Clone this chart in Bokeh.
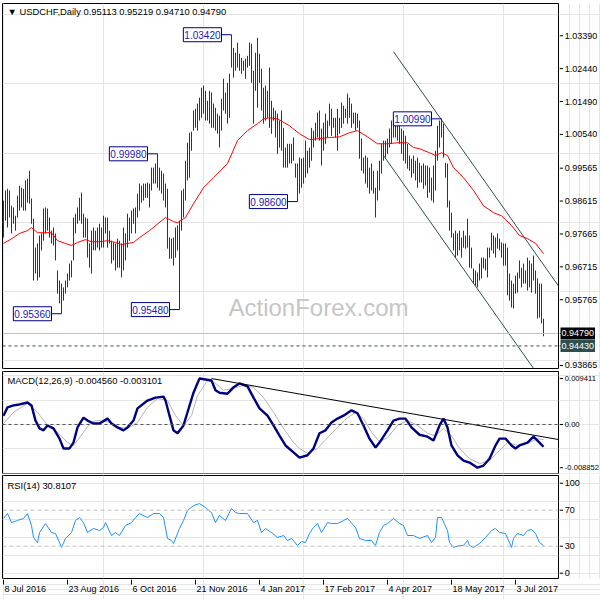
from bokeh.plotting import figure
from bokeh.layouts import column, row
from bokeh.models import Range1d, Label, Span, ColumnDataSource
from bokeh.core.properties import value
from bokeh.embed import file_html
from bokeh.resources import INLINE

# ---------------- data ----------------
bar_high = [
    0.9863, 0.9892, 0.9897, 0.9892, 0.9848, 0.9843, 0.9819, 0.9877, 0.9906, 0.9900,
    0.9897, 0.9921, 0.9926, 0.9949, 0.9869, 0.9811, 0.9727, 0.9739, 0.9762, 0.9768,
    0.9840, 0.9843, 0.9840, 0.9814, 0.9776, 0.9785, 0.9768, 0.9661, 0.9632, 0.9623,
    0.9612, 0.9632, 0.9652, 0.9681, 0.9690, 0.9814, 0.9825, 0.9843, 0.9871, 0.9886,
    0.9825, 0.9814, 0.9811, 0.9739, 0.9776, 0.9785, 0.9776, 0.9785, 0.9796, 0.9785,
    0.9819, 0.9814, 0.9814, 0.9776, 0.9747, 0.9742, 0.9739, 0.9753, 0.9747, 0.9739,
    0.9785, 0.9768, 0.9825, 0.9814, 0.9834, 0.9840, 0.9843, 0.9883, 0.9912, 0.9906,
    0.9912, 0.9912, 0.9915, 0.9912, 0.9958, 0.9958, 0.9970, 0.9998, 0.9958, 0.9949,
    0.9941, 0.9912, 0.9897, 0.9756, 0.9753, 0.9756, 0.9785, 0.9791, 0.9805, 0.9892,
    0.9897, 0.9978, 1.0030, 1.0059, 1.0062, 1.0123, 1.0128, 1.0143, 1.0160, 1.0189,
    1.0195, 1.0180, 1.0151, 1.0180, 1.0175, 1.0143, 1.0131, 1.0114, 1.0108, 1.0157,
    1.0215, 1.0175, 1.0203, 1.0229, 1.0342, 1.0304, 1.0290, 1.0319, 1.0287, 1.0275,
    1.0267, 1.0273, 1.0281, 1.0319, 1.0316, 1.0238, 1.0290, 1.0333, 1.0287, 1.0244,
    1.0189, 1.0195, 1.0180, 1.0247, 1.0151, 1.0131, 1.0123, 1.0114, 1.0094, 1.0123,
    1.0073, 1.0016, 1.0027, 1.0027, 1.0027, 1.0045, 0.9970, 0.9970, 0.9987, 0.9984,
    0.9987, 1.0036, 1.0007, 1.0016, 1.0073, 1.0065, 1.0088, 1.0117, 1.0123, 1.0071,
    1.0088, 1.0114, 1.0094, 1.0143, 1.0128, 1.0102, 1.0102, 1.0128, 1.0102, 1.0146,
    1.0137, 1.0128, 1.0172, 1.0160, 1.0143, 1.0117, 1.0117, 1.0114, 1.0094, 1.0042,
    0.9987, 0.9993, 0.9987, 0.9958, 0.9970, 0.9949, 0.9900, 0.9949, 0.9978, 1.0027,
    1.0036, 1.0036, 1.0042, 1.0071, 1.0094, 1.0102, 1.0094, 1.0094, 1.0085, 1.0071,
    1.0065, 1.0050, 1.0027, 0.9993, 0.9984, 0.9993, 0.9978, 0.9987, 0.9972, 0.9964,
    0.9970, 0.9964, 0.9964, 0.9958, 0.9929, 0.9964, 1.0007, 1.0079, 1.0094, 1.0099,
    1.0085, 0.9972, 0.9970, 0.9863, 0.9828, 0.9768, 0.9776, 0.9768, 0.9776, 0.9756,
    0.9776, 0.9762, 0.9811, 0.9762, 0.9727, 0.9667, 0.9661, 0.9655, 0.9681, 0.9698,
    0.9698, 0.9695, 0.9727, 0.9727, 0.9770, 0.9762, 0.9756, 0.9768, 0.9753, 0.9742,
    0.9739, 0.9739, 0.9727, 0.9652, 0.9632, 0.9623, 0.9646, 0.9655, 0.9690, 0.9669,
    0.9681, 0.9661, 0.9698, 0.9690, 0.9681, 0.9704, 0.9661, 0.9638, 0.9623, 0.9623,
    0.95219]
bar_low = [
    0.9756, 0.9805, 0.9785, 0.9814, 0.9768, 0.9796, 0.9776, 0.9814, 0.9834, 0.9843,
    0.9834, 0.9834, 0.9857, 0.9854, 0.9796, 0.9632, 0.9652, 0.9632, 0.9641, 0.9719,
    0.9747, 0.9768, 0.9776, 0.9756, 0.9739, 0.9733, 0.9690, 0.9594, 0.9566, 0.9536,
    0.9574, 0.9594, 0.9612, 0.9632, 0.9641, 0.9690, 0.9768, 0.9796, 0.9805, 0.9796,
    0.9756, 0.9756, 0.9698, 0.9669, 0.9652, 0.9719, 0.9719, 0.9727, 0.9719, 0.9727,
    0.9727, 0.9768, 0.9727, 0.9739, 0.9681, 0.9690, 0.9661, 0.9669, 0.9669, 0.9641,
    0.9661, 0.9690, 0.9727, 0.9747, 0.9768, 0.9796, 0.9768, 0.9814, 0.9834, 0.9857,
    0.9863, 0.9871, 0.9871, 0.9843, 0.9892, 0.9912, 0.9912, 0.9900, 0.9892, 0.9883,
    0.9863, 0.9843, 0.9724, 0.9695, 0.9695, 0.9675, 0.9698, 0.9719, 0.9548, 0.9776,
    0.9814, 0.9863, 0.9921, 0.9929, 1.0007, 1.0065, 1.0073, 1.0065, 1.0094, 1.0102,
    1.0114, 1.0094, 1.0094, 1.0085, 1.0073, 1.0073, 1.0065, 1.0056, 1.0016, 1.0065,
    1.0123, 1.0114, 1.0085, 1.0102, 1.0247, 1.0218, 1.0238, 1.0247, 1.0238, 1.0229,
    1.0238, 1.0215, 1.0247, 1.0252, 1.0203, 1.0085, 1.0180, 1.0131, 1.0203, 1.0123,
    1.0085, 1.0094, 1.0102, 1.0073, 1.0056, 1.0094, 1.0045, 0.9998, 1.0016, 1.0007,
    0.9958, 0.9958, 0.9958, 0.9970, 0.9970, 0.9978, 0.9929, 0.9860, 0.9883, 0.9900,
    0.9912, 0.9929, 0.9941, 0.9958, 0.9978, 1.0016, 1.0036, 1.0045, 1.0036, 0.9964,
    1.0007, 1.0027, 1.0045, 1.0079, 1.0050, 1.0073, 1.0045, 1.0007, 1.0056, 1.0073,
    1.0085, 1.0102, 1.0085, 1.0102, 1.0073, 1.0085, 1.0065, 1.0073, 0.9984, 0.9949,
    0.9941, 0.9912, 0.9900, 0.9883, 0.9892, 0.9883, 0.9814, 0.9863, 0.9892, 0.9941,
    0.9978, 0.9987, 0.9998, 1.0016, 1.0027, 1.0045, 1.0045, 1.0036, 1.0027, 0.9998,
    0.9978, 0.9970, 0.9955, 0.9949, 0.9929, 0.9941, 0.9921, 0.9900, 0.9915, 0.9915,
    0.9897, 0.9906, 0.9871, 0.9886, 0.9863, 0.9857, 0.9892, 0.9978, 1.0016, 1.0045,
    0.9987, 0.9929, 0.9843, 0.9776, 0.9756, 0.9719, 0.9698, 0.9704, 0.9719, 0.9698,
    0.9727, 0.9724, 0.9727, 0.9669, 0.9667, 0.9623, 0.9617, 0.9612, 0.9632, 0.9638,
    0.9667, 0.9661, 0.9641, 0.9698, 0.9719, 0.9710, 0.9698, 0.9724, 0.9719, 0.9698,
    0.9675, 0.9675, 0.9589, 0.9574, 0.9554, 0.9551, 0.9594, 0.9597, 0.9638, 0.9612,
    0.9623, 0.9623, 0.9603, 0.9612, 0.9597, 0.9632, 0.9594, 0.9522, 0.9525, 0.9508,
    0.94710]
bar_index = list(range(len(bar_high)))

ma_index = [0, 5, 8, 12, 14, 17, 20, 24, 27, 31,
            34, 37, 41, 44, 48, 52, 56, 59, 62, 65,
            68, 73, 81, 85, 87, 91, 95, 100, 105, 112,
            117, 122, 127, 130, 133, 137, 143, 148, 153, 158,
            163, 168, 173, 177, 182, 187, 192, 197, 202, 205,
            208, 213, 216, 219, 222, 225, 230, 235, 240, 245,
            249, 254, 258, 262, 266, 270]
ma_value = [0.9739, 0.9756, 0.9768, 0.9776, 0.9785, 0.9770, 0.9770, 0.9770, 0.9747, 0.9739,
            0.9733, 0.9742, 0.9750, 0.9744, 0.9744, 0.9747, 0.9742, 0.9736, 0.9739, 0.9742,
            0.9756, 0.9776, 0.9814, 0.9802, 0.9799, 0.9814, 0.9854, 0.9900, 0.9929, 0.9970,
            1.0036, 1.0065, 1.0085, 1.0099, 1.0102, 1.0099, 1.0079, 1.0056, 1.0039, 1.0042,
            1.0045, 1.0047, 1.0059, 1.0065, 1.0047, 1.0027, 1.0027, 1.0030, 1.0030, 1.0016,
            1.0013, 1.0001, 0.9993, 1.0001, 0.9993, 0.9958, 0.9929, 0.9892, 0.9848, 0.9828,
            0.9819, 0.9791, 0.9762, 0.9753, 0.9739, 0.9710]

price_ticks = [1.03390, 1.02440, 1.01490, 1.00540, 0.99565, 0.98615,
               0.97665, 0.96715, 0.95765, 0.93865]
price_tick_labels = ["1.03390", "1.02440", "1.01490", "1.00540", "0.99565", "0.98615",
                     "0.97665", "0.96715", "0.95765", "0.93865"]
last_close = 0.94790
last_close_label = "0.94790"
level_price = 0.94430
level_label = "0.94430"

annot_index = [114, 77, 147, 29, 88, 219]
annot_price = [1.0342, 0.9998, 0.9860, 0.9536, 0.9548, 1.0099]
annot_text = ["1.03420", "0.99980", "0.98600", "0.95360", "0.95480", "1.00990"]

channel_upper_index = [195, 277.5]
channel_upper_price = [1.0293, 0.9616]
channel_lower_index = [190, 265]
channel_lower_price = [0.9993, 0.9378]

macd_index = [0, 2, 5, 8, 12, 14, 16, 18, 20, 22,
              25, 28, 30, 33, 35, 37, 40, 42, 45, 48,
              52, 54, 57, 60, 62, 65, 67, 72, 76, 80,
              81, 83, 85, 87, 90, 92, 95, 98, 101, 104,
              106, 108, 112, 115, 118, 122, 125, 128, 132, 135,
              138, 141, 145, 148, 152, 155, 158, 161, 164, 167,
              170, 174, 177, 180, 183, 186, 188, 192, 195, 198,
              201, 204, 208, 212, 215, 218, 220, 222, 224, 227,
              230, 233, 237, 240, 243, 246, 248, 251, 254, 256,
              258, 262, 265, 267, 270]
macd_value = [0.0018, 0.0035, 0.0039, 0.0041, 0.0045, 0.0039, 0.0008, -0.0008, -0.0012, -0.0002,
              -0.0008, -0.0029, -0.0049, -0.0049, -0.0037, -0.0006, 0.0014, 0.0008, 0.0002, 0.0002,
              0.0012, 0.0002, -0.0006, -0.0012, -0.0006, 0.0008, 0.0033, 0.0049, 0.0055, 0.0057,
              0.0049, 0.0018, -0.0012, -0.0018, -0.0002, 0.0025, 0.0065, 0.0094, 0.0092, 0.0090,
              0.0070, 0.0065, 0.0063, 0.0076, 0.0084, 0.0078, 0.0055, 0.0033, 0.0018, -0.0002,
              -0.0023, -0.0043, -0.0057, -0.0068, -0.0063, -0.0049, -0.0018, -0.0012, 0.0004, 0.0012,
              0.0018, 0.0029, 0.0023, -0.0002, -0.0029, -0.0047, -0.0037, -0.0012, 0.0008, 0.0012,
              0.0012, -0.0006, -0.0021, -0.0025, -0.0033, -0.0002, 0.0012, -0.0006, -0.0043, -0.0063,
              -0.0074, -0.0078, -0.00885, -0.0084, -0.0070, -0.0043, -0.0029, -0.0029, -0.0043, -0.0049,
              -0.0043, -0.0037, -0.0025, -0.0033, -0.00456]
signal_index = [0, 5, 12, 17, 22, 27, 32, 35, 40, 44,
                48, 54, 58, 62, 67, 72, 77, 82, 86, 90,
                94, 97, 102, 106, 110, 115, 120, 125, 130, 135,
                140, 145, 148, 152, 157, 162, 167, 172, 176, 180,
                184, 188, 192, 197, 202, 207, 212, 216, 220, 224,
                228, 233, 238, 243, 248, 252, 257, 262, 267, 270]
signal_value = [0.0002, 0.0025, 0.0043, 0.0025, -0.0002, -0.0016, -0.0037, -0.0043, -0.0016, 0.0006,
                0.0008, 0.0004, -0.0006, -0.0008, 0.0004, 0.0035, 0.0053, 0.0049, 0.0018, -0.0002,
                0.0018, 0.0059, 0.0090, 0.0084, 0.0070, 0.0074, 0.0080, 0.0076, 0.0055, 0.0025,
                -0.0008, -0.0037, -0.0049, -0.0059, -0.0049, -0.0027, -0.0006, 0.0014, 0.0025, 0.0012,
                -0.0016, -0.0035, -0.0027, -0.0002, 0.0008, -0.0002, -0.0018, -0.0023, -0.0008, -0.0023,
                -0.0049, -0.0070, -0.0080, -0.0074, -0.0053, -0.0037, -0.0043, -0.0039, -0.0029, -0.0031]
macd_trend_index = [104, 277.5]
macd_trend_value = [0.0094, -0.00308]
macd_ticks = [0.009411, 0.0, -0.008852]
macd_tick_labels = ["0.009411", "0.00", "-0.008852"]

rsi_index = [0, 2, 4, 7, 10, 12, 14, 15, 17, 18,
             21, 24, 26, 28, 29, 31, 34, 36, 38, 40,
             42, 45, 48, 50, 51, 54, 56, 58, 61, 64,
             66, 68, 72, 75, 78, 80, 82, 84, 85, 88,
             90, 92, 95, 98, 101, 104, 106, 108, 111, 114,
             116, 118, 122, 125, 127, 129, 131, 134, 137, 140,
             142, 144, 147, 149, 151, 153, 155, 157, 159, 162,
             164, 167, 170, 172, 176, 178, 181, 184, 186, 188,
             190, 192, 195, 198, 200, 202, 205, 208, 212, 214,
             216, 217, 219, 222, 223, 225, 228, 230, 232, 233,
             235, 238, 241, 244, 246, 248, 251, 254, 255, 257,
             260, 262, 264, 266, 268, 270]
rsi_value = [60.8, 66.3, 56.3, 58.6, 60.8, 66.3, 53.0, 39.7, 34.1, 45.2,
             55.2, 45.2, 44.1, 34.1, 28.6, 38.6, 45.2, 58.6, 61.9, 56.3,
             45.2, 49.7, 47.4, 50.8, 56.3, 41.9, 45.2, 41.9, 53.0, 56.3,
             61.9, 66.3, 61.9, 66.3, 66.3, 61.9, 38.6, 36.3, 33.0, 49.7,
             58.6, 69.7, 75.2, 77.4, 73.0, 67.4, 56.3, 64.1, 58.6, 71.9,
             67.4, 66.3, 66.3, 56.3, 58.6, 45.2, 49.7, 45.2, 39.7, 41.9,
             36.3, 38.6, 30.8, 35.2, 34.1, 44.1, 50.8, 55.2, 45.2, 56.3,
             55.2, 55.2, 58.6, 60.8, 50.8, 38.6, 36.3, 36.3, 30.8, 45.2,
             53.0, 55.2, 60.8, 55.2, 53.0, 41.9, 41.9, 38.6, 41.9, 34.1,
             39.7, 61.9, 61.9, 47.4, 34.1, 28.6, 30.8, 30.8, 36.3, 30.8,
             28.6, 33.0, 39.7, 47.4, 49.7, 45.2, 44.1, 28.6, 38.6, 44.1,
             41.9, 47.4, 48.6, 44.1, 34.1, 30.81]
rsi_ticks = [100, 70, 30, 0]
rsi_tick_labels = ["100", "70", "30", "0"]
rsi_levels = [70, 30]

date_ticks = [0, 32, 64, 96, 128, 160, 192, 224, 256]
date_labels = ["8 Jul 2016", "23 Aug 2016", "6 Oct 2016", "21 Nov 2016", "4 Jan 2017",
               "17 Feb 2017", "4 Apr 2017", "18 May 2017", "3 Jul 2017"]

price_title = "\u25bc USDCHF,Daily  0.95113 0.95219 0.94710 0.94790"
macd_title = "MACD(12,26,9) -0.004560 -0.003101"
rsi_title = "RSI(14) 30.8107"
watermark = "ActionForex.com"

# ---------------- layout / styling ----------------
FONT = "Liberation Sans"
FS = "9px"
TFS = "9.4px"
BAR = "#143C5C"
MAIN_W = 559          # main panels: frame from x=2 to x=558 (2 px per bar)
SIDE_W = 41           # right-hand scale column
TOTAL_W = MAIN_W + SIDE_W
FRAME_W = MAIN_W - 2 - 1
X0, X1 = -0.5, 277.5
xr = Range1d(X0, X1)


def make_fig(w, h, xrng, yr, top, bottom, left, right, outline=True):
    f = figure(width=w, height=h, x_range=xrng, y_range=yr, output_backend="svg",
               toolbar_location=None, x_axis_location=None, y_axis_location=None,
               min_border_left=left, min_border_right=right, min_border_top=top,
               min_border_bottom=bottom, title=None)
    f.outline_line_color = "black" if outline else None
    f.outline_line_width = 1
    f.background_fill_color = "white"
    f.border_fill_color = "white"
    return f


def side_scale(h, yr, top, bottom, ticks, labels, font_size):
    s = make_fig(SIDE_W, h, Range1d(0, SIDE_W), yr, top, bottom, 0, 0, outline=False)
    s.segment(x0=[0] * len(ticks), y0=ticks, x1=[3.5] * len(ticks), y1=ticks,
              line_color="black", line_width=1)
    s.text(x=[5.3] * len(ticks), y=ticks, text=labels, text_font=value(FONT),
           text_font_size=value(font_size), text_align="left", text_baseline="middle",
           text_color="black")
    return s


def corner_title(f, y_top, text, dy):
    f.add_layout(Label(x=X0, y=y_top, x_offset=5, y_offset=-dy, text=text,
                       text_align="left", text_baseline="middle", text_font=FONT,
                       text_font_size=TFS, text_color="black"))


# ---------------- price panel ----------------
price_yr = Range1d(0.93778, 1.04322)
p1 = make_fig(MAIN_W, 370, xr, price_yr, 3, 2, 2, 1)
p1.add_layout(Span(location=last_close, dimension="width", line_color="#C0C0C0", line_width=1))
p1.add_layout(Span(location=level_price, dimension="width", line_color="#2F4F4F",
                   line_width=1, line_dash="3 3"))
p1.add_layout(Label(x=157.5, y=0.9554, text=watermark, text_align="center",
                    text_baseline="middle", text_font=FONT, text_font_size="24px",
                    text_color="#C6C6C6", level="underlay"))
src = ColumnDataSource(dict(x=bar_index, hi=bar_high, lo=bar_low))
p1.segment(x0="x", y0="lo", x1="x", y1="hi", source=src, line_color=BAR, line_width=1)
p1.line(ma_index, ma_value, line_color="#FF0000", line_width=1)
p1.line(channel_upper_index, channel_upper_price, line_color="#2F4F4F", line_width=1)
p1.line(channel_lower_index, channel_lower_price, line_color="#2F4F4F", line_width=1)
p1.segment(x0=[i - 5 for i in annot_index], y0=annot_price, x1=annot_index, y1=annot_price,
           line_color="#000080", line_width=1)
for i, v, t in zip(annot_index, annot_price, annot_text):
    p1.add_layout(Label(x=i, y=v, x_offset=-10, text=t, text_align="right",
                        text_baseline="middle", text_font=FONT, text_font_size="10px",
                        text_color="#1A1AB0", background_fill_color="white",
                        border_line_color="#000080", border_line_width=1, padding=(1, 3)))
corner_title(p1, 1.04322, price_title, 8)

s1 = side_scale(370, price_yr, 3, 2, price_ticks + [last_close, level_price],
                price_tick_labels + ["", ""], FS)
s1.add_layout(Label(x=0, y=last_close, x_offset=1, text=last_close_label, text_align="left",
                    text_baseline="middle", text_font=FONT, text_font_size=FS,
                    text_color="white", background_fill_color="black", padding=(1, 3)))
s1.add_layout(Label(x=0, y=level_price, x_offset=1, text=level_label, text_align="left",
                    text_baseline="middle", text_font=FONT, text_font_size=FS,
                    text_color="white", background_fill_color="#2F4F4F", padding=(1, 3)))

# ---------------- MACD panel ----------------
macd_yr = Range1d(-0.01003, 0.01084)
p2 = make_fig(MAIN_W, 104, xr, macd_yr, 1, 1, 2, 1)
p2.add_layout(Span(location=0, dimension="width", line_color="#505050", line_width=1,
                   line_dash="3 3"))
p2.line(signal_index, signal_value, line_color="#B4B4B4", line_width=1)
p2.line(macd_index, macd_value, line_color="#000080", line_width=2.4)
p2.line(macd_trend_index, macd_trend_value, line_color="black", line_width=1)
corner_title(p2, 0.01084, macd_title, 9)
s2 = side_scale(104, macd_yr, 1, 1, macd_ticks, macd_tick_labels, "7.6px")

# ---------------- RSI panel ----------------
rsi_yr = Range1d(-5.9, 108.6)
p3 = make_fig(MAIN_W, 105, xr, rsi_yr, 1, 1, 2, 1)
for lv in rsi_levels:
    p3.add_layout(Span(location=lv, dimension="width", line_color="#C0C0C0", line_width=1,
                       line_dash="4 3"))
p3.line(rsi_index, rsi_value, line_color="#1E90FF", line_width=1)
corner_title(p3, 108.6, rsi_title, 10)
s3 = side_scale(105, rsi_yr, 1, 1, rsi_ticks, rsi_tick_labels, FS)

# ---------------- date strip ----------------
date_frame_w = TOTAL_W - 2
dx = Range1d(X0, X0 + (X1 - X0) * date_frame_w / FRAME_W)
d = make_fig(TOTAL_W, 20, dx, Range1d(0, 20), 0, 0, 2, 0, outline=False)
d.segment(x0=date_ticks, y0=[20] * len(date_ticks), x1=date_ticks, y1=[15] * len(date_ticks),
          line_color="black", line_width=1)
d.text(x=date_ticks, y=[10.5] * len(date_ticks), text=date_labels, x_offset=1,
       text_font=value(FONT), text_font_size=value(FS), text_align="left",
       text_baseline="middle", text_color="black")

layout = column(row(p1, s1), row(p2, s2), row(p3, s3), d)
open("out.html", "w").write(file_html(layout, INLINE))
